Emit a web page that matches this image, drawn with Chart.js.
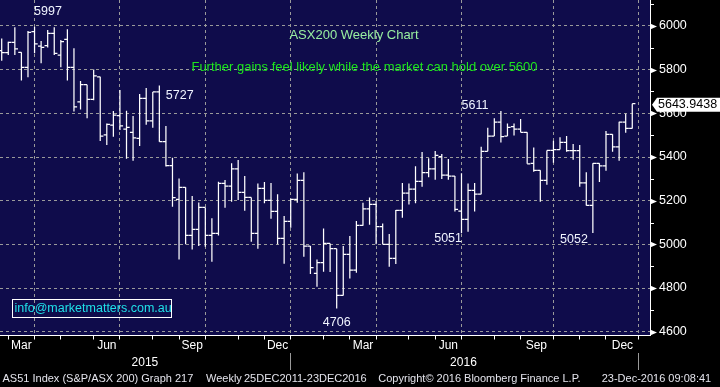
<!DOCTYPE html>
<html>
<head>
<meta charset="utf-8">
<script src="https://cdn.jsdelivr.net/npm/chart.js@4.4.1/dist/chart.umd.min.js"></script>
<style>
  html, body { margin: 0; padding: 0; background: #000; }
  #wrap { width: 720px; height: 387px; }
</style>
</head>
<body>
<div id="wrap"><canvas id="myChart" width="720" height="387"></canvas></div>
<script>
// ASX200 weekly bars, one entry per week (Feb 2015 -> 23 Dec 2016)
const opens = [5887,5878,5925,5879,5811,5974,5908,5910,5966,5867,
  5939,5811,5652,5731,5664,5767,5501,5546,5589,5528,
  5513,5485,5669,5565,5698,5470,5360,5206,5261,5041,
  5069,5169,5041,5050,5279,5267,5346,5238,5215,5050,
  5256,5201,5151,5027,5105,5206,5293,4992,4867,4916,
  5004,4980,4766,4954,4882,5087,5163,5183,5081,5000,
  4936,5156,5235,5253,5288,5328,5346,5402,5317,5313,
  5152,5114,5247,5230,5426,5496,5560,5496,5539,5528,
  5513,5371,5339,5293,5430,5434,5467,5429,5429,5282,
  5178,5371,5359,5504,5446,5560,5531];
const highs = [5943,5928,5994,5880,5977,5997,5931,5982,5994,5936,
  5985,5898,5748,5731,5801,5768,5554,5611,5707,5612,
  5588,5689,5716,5698,5727,5542,5397,5302,5261,5221,
  5192,5169,5119,5287,5295,5371,5386,5313,5215,5279,
  5285,5281,5230,5130,5209,5325,5330,4992,4931,5073,
  5004,4980,4992,5038,5107,5191,5215,5198,5096,5047,
  5157,5281,5279,5358,5423,5394,5427,5414,5391,5313,
  5326,5279,5281,5447,5534,5577,5611,5554,5554,5574,
  5513,5443,5339,5430,5475,5491,5496,5459,5455,5330,
  5371,5371,5519,5504,5562,5598,5644];
const lows = [5841,5867,5867,5750,5765,5875,5829,5902,5867,5811,
  5750,5608,5618,5577,5660,5473,5455,5493,5524,5392,
  5383,5450,5548,5534,5470,5356,5172,4931,5000,4977,
  4992,4989,4920,5040,5168,5195,5203,5154,5012,4980,
  5188,5117,5000,4911,5076,5191,4943,4864,4806,4875,
  4873,4706,4766,4844,4870,5085,5090,5000,5000,4897,
  4910,5122,5183,5188,5264,5307,5296,5299,5296,5150,
  5051,5058,5151,5230,5426,5496,5466,5496,5498,5513,
  5369,5333,5195,5273,5374,5434,5424,5388,5264,5178,
  5052,5285,5337,5424,5383,5511,5531];
const closes = [5878,5925,5895,5811,5971,5918,5902,5966,5875,5928,
  5811,5630,5731,5664,5772,5496,5550,5592,5543,5536,
  5488,5669,5565,5698,5470,5360,5214,5261,5041,5069,
  5169,5041,5050,5279,5267,5346,5238,5215,5050,5256,
  5201,5151,5027,5105,5206,5293,4992,4893,4916,5004,
  4980,4766,4954,4882,5087,5163,5183,5081,5000,4936,
  5156,5235,5253,5288,5328,5346,5408,5317,5313,5160,
  5114,5247,5230,5426,5496,5560,5493,5536,5528,5513,
  5369,5339,5293,5430,5434,5467,5429,5429,5282,5178,
  5371,5359,5504,5446,5560,5531,5643.9438];

// x axis, in week index units
const monthTicks = [1,5,9,14,18,23,27,31,36,40,44,49,53,57,62,66,70,75,79,84,88,92,97];
const quarterLines = [5,18,31,44,57,70,84,97];
const monthLabels = ['Mar','Jun','Sep','Dec','Mar','Jun','Sep','Dec'];
const monthLabelPos = [3,16,29,42,55,68,81.4,94.5];
const yearLabels = ['2015','2016'];
const yearLabelPos = [21.8,70.3];
const yearBreaks = [44,97];

const NAVY = '#0f0c4b';
const GRID = '#9a9a9a';
const FONT = '"Liberation Sans", Arial, sans-serif';
const TICK = 0.48;
const XMIN = -0.26, XMAX = 98.7;

Chart.defaults.font.family = FONT;

// OHLC bars as line segments (gaps between them)
const ranges = [], openTicks = [], closeTicks = [];
for (let i = 0; i < closes.length; i++) {
  ranges.push({x: i, y: lows[i]}, {x: i, y: highs[i]}, {x: i, y: null});
  openTicks.push({x: i - TICK, y: opens[i]}, {x: i, y: opens[i]}, {x: i, y: null});
  closeTicks.push({x: i, y: closes[i]}, {x: i + TICK, y: closes[i]}, {x: i + TICK, y: null});
}

const lineDs = (data) => ({
  data: data,
  borderColor: '#ffffff',
  borderWidth: 1.25,
  pointRadius: 0,
  tension: 0,
  spanGaps: false,
  xAxisID: 'x',
  yAxisID: 'y'
});

const decorations = {
  id: 'decorations',
  beforeDraw(chart) {
    const {ctx, chartArea: a} = chart;
    ctx.save();
    ctx.fillStyle = '#000';
    ctx.fillRect(0, 0, chart.width, chart.height);
    ctx.fillStyle = NAVY;
    ctx.fillRect(a.left, a.top, a.right - a.left, a.bottom - a.top);
    ctx.restore();
  },
  afterDraw(chart) {
    const {ctx, chartArea: a} = chart;
    const xs = chart.scales.x, ys = chart.scales.y;
    ctx.save();

    // y axis tick marks: arrows on majors, short lines on minors
    ctx.fillStyle = '#fff';
    ctx.strokeStyle = '#fff';
    ctx.lineWidth = 1;
    for (let v = 4600; v <= 6100; v += 100) {
      const y = Math.round(ys.getPixelForValue(v)) + 0.5;
      if (v % 200 === 0) {
        ctx.beginPath();
        ctx.moveTo(a.right, y - 3);
        ctx.lineTo(a.right + 7, y);
        ctx.lineTo(a.right, y + 3);
        ctx.closePath();
        ctx.fill();
      } else {
        ctx.beginPath();
        ctx.moveTo(a.right, y);
        ctx.lineTo(a.right + 4, y);
        ctx.stroke();
      }
    }

    // last price flag
    const last = closes[closes.length - 1];
    const py = ys.getPixelForValue(last) + 1;
    ctx.fillStyle = '#fff';
    ctx.beginPath();
    ctx.moveTo(a.right + 2, py);
    ctx.lineTo(a.right + 7, py - 7);
    ctx.lineTo(chart.width, py - 7);
    ctx.lineTo(chart.width, py + 7);
    ctx.lineTo(a.right + 7, py + 7);
    ctx.closePath();
    ctx.fill();
    ctx.fillStyle = '#000';
    ctx.font = '12.5px ' + FONT;
    ctx.textAlign = 'left';
    ctx.textBaseline = 'middle';
    ctx.fillText(last.toFixed(4), a.right + 8, py);

    // turning point labels
    ctx.fillStyle = '#f0f4ff';
    ctx.font = '12.5px ' + FONT;
    ctx.textAlign = 'left';
    ctx.fillText(String(highs[5]), xs.getPixelForValue(5) - 0.5, ys.getPixelForValue(highs[5]) - 15);
    ctx.fillText(String(highs[24]), xs.getPixelForValue(24) + 6.5, ys.getPixelForValue(highs[24]) + 10);
    ctx.textAlign = 'right';
    ctx.fillText(String(highs[76]), xs.getPixelForValue(76) - 12.5, ys.getPixelForValue(highs[76]) - 5);
    ctx.fillText(String(lows[70]), xs.getPixelForValue(70) + 0.5, ys.getPixelForValue(lows[70]) + 5);
    ctx.fillText(String(lows[90]), xs.getPixelForValue(90) - 5, ys.getPixelForValue(lows[90]) + 6.5);
    ctx.textAlign = 'center';
    ctx.fillText(String(lows[51]), xs.getPixelForValue(51), ys.getPixelForValue(lows[51]) + 14);

    // titles
    ctx.font = '13px ' + FONT;
    ctx.fillStyle = '#98eea0';
    ctx.fillText('ASX200 Weekly Chart', 354, 35);
    ctx.fillStyle = '#1ee61e';
    ctx.fillText('Further gains feel likely while the market can hold over 5600', 364.5, 67);

    // email box
    ctx.strokeStyle = '#fff';
    ctx.strokeRect(12.5, 299.5, 159, 18);
    ctx.fillStyle = '#1fe0e8';
    ctx.font = '12.5px ' + FONT;
    ctx.textAlign = 'left';
    ctx.fillText('info@marketmatters.com.au', 14.5, 308.5);

    // footer
    ctx.fillStyle = '#e4e4ec';
    ctx.font = '11px ' + FONT;
    ctx.fillText('AS51 Index (S&P/ASX 200) Graph 217', 2.5, 379);
    ctx.fillText('Weekly', 206, 379);
    ctx.fillText('25DEC2011-23DEC2016', 244, 379);
    ctx.fillText('Copyright\u00a9 2016 Bloomberg Finance L.P.', 378.3, 379);
    ctx.fillText('23-Dec-2016 09:08:41', 601.7, 379);

    ctx.restore();
  }
};

const ctx = document.getElementById('myChart').getContext('2d');
const myChart = new Chart(ctx, {
  type: 'line',
  data: {
    datasets: [lineDs(ranges), lineDs(openTicks), lineDs(closeTicks)]
  },
  options: {
    responsive: false,
    animation: false,
    devicePixelRatio: 1,
    layout: { padding: { left: 0, top: 0, right: 0, bottom: 14 } },
    plugins: { legend: { display: false }, tooltip: { enabled: false } },
    scales: {
      x: {
        type: 'linear',
        position: 'bottom',
        min: XMIN,
        max: XMAX,
        afterBuildTicks: (s) => { s.ticks = quarterLines.map(v => ({value: v})); },
        afterFit: (s) => { s.height = 0; s.paddingLeft = 0; s.paddingRight = 0; },
        grid: { color: GRID, lineWidth: 1, drawTicks: false },
        border: { display: true, color: '#ffffff', width: 1, dash: [3, 3] },
        ticks: { display: false }
      },
      xm: {
        type: 'linear',
        position: 'bottom',
        min: XMIN,
        max: XMAX,
        afterBuildTicks: (s) => {
          s.ticks = monthTicks.concat(monthLabelPos).sort((p, q) => p - q).map(v => ({value: v}));
        },
        afterFit: (s) => { s.height = 17.5; s.paddingLeft = 0; s.paddingRight = 0; },
        grid: {
          drawOnChartArea: false,
          drawTicks: true,
          tickLength: 4,
          lineWidth: 1,
          tickColor: (c) => monthTicks.includes(c.tick.value) ? '#ffffff' : 'rgba(0,0,0,0)'
        },
        border: { display: false },
        ticks: {
          autoSkip: false,
          maxRotation: 0,
          minRotation: 0,
          padding: -1,
          color: '#ffffff',
          font: { size: 12 },
          callback: (v) => {
            const k = monthLabelPos.indexOf(v);
            return k >= 0 ? monthLabels[k] : '';
          }
        }
      },
      xy: {
        type: 'linear',
        position: 'bottom',
        min: XMIN,
        max: XMAX,
        afterBuildTicks: (s) => {
          s.ticks = yearLabelPos.concat(yearBreaks).sort((p, q) => p - q).map(v => ({value: v}));
        },
        afterFit: (s) => { s.height = 20; s.paddingLeft = 0; s.paddingRight = 0; },
        grid: {
          drawOnChartArea: false,
          drawTicks: true,
          tickLength: 17,
          lineWidth: 1,
          tickColor: (c) => yearBreaks.includes(c.tick.value) ? GRID : 'rgba(0,0,0,0)'
        },
        border: { display: false },
        ticks: {
          autoSkip: false,
          maxRotation: 0,
          minRotation: 0,
          padding: -15,
          color: '#ffffff',
          font: { size: 12 },
          callback: (v) => {
            const k = yearLabelPos.indexOf(v);
            return k >= 0 ? yearLabels[k] : '';
          }
        }
      },
      y: {
        type: 'linear',
        position: 'right',
        min: 4582.6,
        max: 6119,
        afterFit: (s) => { s.width = 70; s.paddingTop = 0; s.paddingBottom = 0; },
        grid: { color: GRID, lineWidth: 1, drawTicks: false },
        border: { display: true, color: '#ffffff', width: 1, dash: [3, 3] },
        ticks: {
          stepSize: 200,
          includeBounds: false,
          padding: 9,
          color: '#ffffff',
          font: { size: 12.5 },
          callback: (v) => String(v)
        }
      }
    }
  },
  plugins: [decorations]
});
</script>
</body>
</html>
